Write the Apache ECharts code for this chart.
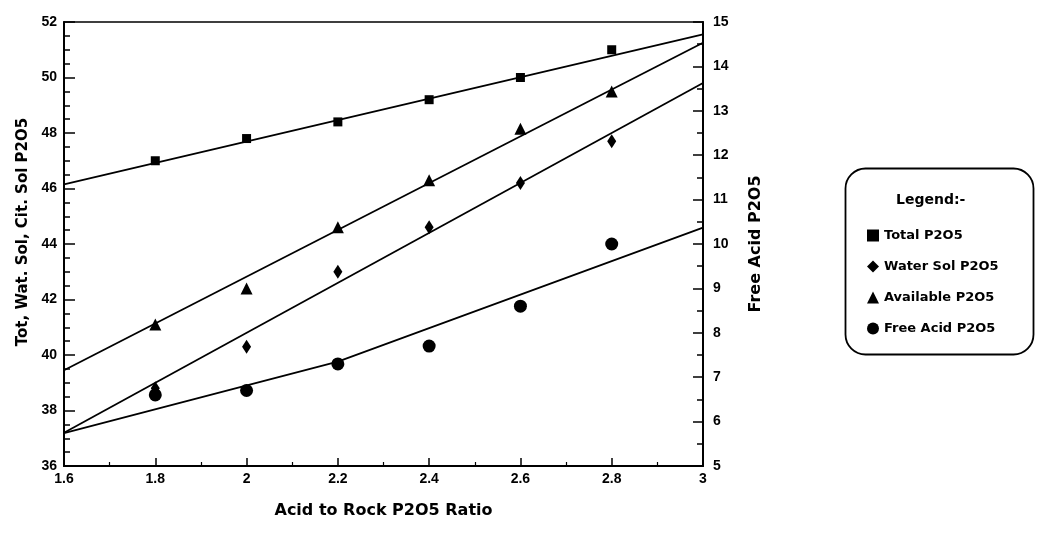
<!DOCTYPE html>
<html>
<head>
<meta charset="utf-8">
<script src="https://cdn.jsdelivr.net/npm/echarts@6/dist/echarts.min.js"></script>
<style>
  html, body { margin: 0; padding: 0; background: #fff; }
  #chart { width: 1045px; height: 536px; }
</style>
</head>
<body>
<div id="chart"></div>
<script>
// measured points
var ratio = [1.8, 2.0, 2.2, 2.4, 2.6, 2.8];
var totalP2O5 = [47.0, 47.8, 48.4, 49.2, 50.0, 51.0];
var waterSolP2O5 = [38.8, 40.3, 43.0, 44.6, 46.2, 47.7];
var availableP2O5 = [41.1, 42.4, 44.6, 46.3, 48.15, 49.5];
var freeAcidP2O5 = [6.6, 6.7, 7.3, 7.7, 8.6, 10.0];

// fitted lines
var fitRatio = [1.6, 3.0];
var totalFit = [46.15, 51.55];
var waterFit = [37.2, 49.8];
var availableFit = [39.45, 51.25];
var freeAcidFitRatio = [1.6, 2.2, 3.0];
var freeAcidFit = [5.74, 7.35, 10.37];

function pairs(xs, ys) {
  return xs.map(function (x, i) { return [x, ys[i]]; });
}

var font = 'Liberation Sans';
var wide = 'DejaVu Sans';
var black = '#000';

function fitLine(xs, ys, axis) {
  return {
    type: 'line',
    yAxisIndex: axis,
    data: pairs(xs, ys),
    symbol: 'none',
    silent: true,
    lineStyle: { color: black, width: 1.8 },
    z: 1
  };
}

function points(name, ys, axis, symbol, size) {
  return {
    name: name,
    type: 'scatter',
    yAxisIndex: axis,
    data: pairs(ratio, ys),
    symbol: symbol,
    symbolSize: size,
    itemStyle: { color: black, opacity: 1 },
    z: 3
  };
}

var chart = echarts.init(document.getElementById('chart'));
chart.setOption({
  backgroundColor: '#fff',
  animation: false,
  grid: {
    left: 64,
    right: 342,
    top: 22,
    bottom: 70,
    show: true,
    borderColor: black,
    borderWidth: 1.5
  },
  xAxis: {
    type: 'value',
    min: 1.6,
    max: 3,
    interval: 0.2,
    name: 'Acid to Rock P2O5 Ratio',
    nameLocation: 'middle',
    nameGap: 37,
    nameTextStyle: { fontFamily: wide, fontWeight: 'bold', fontSize: 16, color: black },
    axisLine: { lineStyle: { color: black, width: 2 } },
    axisTick: { inside: true, length: 8, lineStyle: { color: black, width: 1.5 } },
    minorTick: { show: true, splitNumber: 2, length: 4, lineStyle: { color: black, width: 1.2 } },
    axisLabel: { fontFamily: font, fontWeight: 'bold', fontSize: 14, color: black, margin: 6 },
    splitLine: { show: false }
  },
  yAxis: [{
    type: 'value',
    min: 36,
    max: 52,
    interval: 2,
    name: 'Tot, Wat. Sol, Cit. Sol P2O5',
    nameLocation: 'middle',
    nameRotate: 90,
    nameGap: 33,
    nameTextStyle: { fontFamily: wide, fontWeight: 'bold', fontSize: 15, color: black, padding: [0, 0, 0, 24] },
    axisLine: { show: true, lineStyle: { color: black, width: 2 } },
    axisTick: { inside: true, length: 11, lineStyle: { color: black, width: 1.5 } },
    minorTick: { show: true, splitNumber: 4, length: 6, lineStyle: { color: black, width: 1.5 } },
    axisLabel: { fontFamily: font, fontWeight: 'bold', fontSize: 14, color: black, margin: 7 },
    splitLine: { show: false }
  }, {
    type: 'value',
    position: 'right',
    min: 5,
    max: 15,
    interval: 1,
    name: 'Free Acid P2O5',
    nameLocation: 'middle',
    nameRotate: 90,
    nameGap: 45,
    nameTextStyle: { fontFamily: wide, fontWeight: 'bold', fontSize: 16, color: black },
    axisLine: { show: true, lineStyle: { color: black, width: 2 } },
    axisTick: { inside: true, length: 10, lineStyle: { color: black, width: 1.5 } },
    minorTick: { show: true, splitNumber: 2, length: 6, lineStyle: { color: black, width: 1.5 } },
    axisLabel: { fontFamily: font, fontWeight: 'bold', fontSize: 14, color: black, margin: 10 },
    splitLine: { show: false }
  }],
  legend: {
    orient: 'vertical',
    left: 862,
    top: 224,
    itemWidth: 12,
    itemHeight: 12,
    itemGap: 18,
    textStyle: { fontFamily: wide, fontWeight: 'bold', fontSize: 13, color: black },
    data: ['Total P2O5', 'Water Sol P2O5', 'Available P2O5', 'Free Acid P2O5']
  },
  // rounded legend frame and its title
  graphic: [{
    type: 'rect',
    left: 843,
    top: 166,
    shape: { width: 188, height: 186, r: 20 },
    style: { fill: 'none', stroke: black, lineWidth: 1.8 }
  }, {
    type: 'text',
    left: 896,
    top: 193,
    style: { text: 'Legend:-', font: 'bold 14px "DejaVu Sans"', fill: black }
  }],
  series: [
    fitLine(fitRatio, totalFit, 0),
    fitLine(fitRatio, waterFit, 0),
    fitLine(fitRatio, availableFit, 0),
    fitLine(freeAcidFitRatio, freeAcidFit, 1),
    points('Total P2O5', totalP2O5, 0, 'rect', 9),
    points('Water Sol P2O5', waterSolP2O5, 0, 'diamond', [9, 14]),
    points('Available P2O5', availableP2O5, 0, 'triangle', 12),
    points('Free Acid P2O5', freeAcidP2O5, 1, 'circle', 13)
  ]
});
</script>
</body>
</html>
